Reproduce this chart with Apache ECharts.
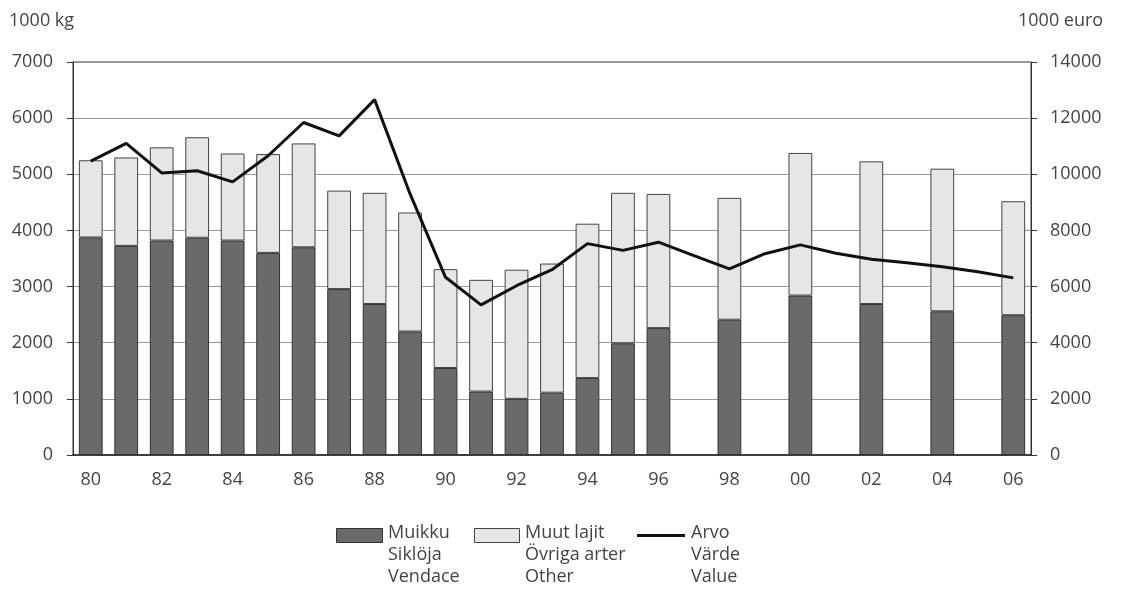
<!DOCTYPE html>
<html>
<head>
<meta charset="utf-8">
<script src="https://cdn.jsdelivr.net/npm/echarts@6/dist/echarts.min.js"></script>
<style>html,body{margin:0;padding:0;background:#fff}#c{width:1123px;height:590px}</style>
</head>
<body>
<div id="c"></div>
<script>
var years = ['80','81','82','83','84','85','86','87','88','89','90','91','92','93','94','95','96','97','98','99','00','01','02','03','04','05','06'];
var muikku = [3875,3725,3820,3870,3820,3600,3700,2955,2690,2200,1550,1130,1000,1110,1370,1990,2260,null,2410,null,2840,null,2690,null,2560,null,2490];
var muut = [1375,1575,1660,1790,1550,1760,1850,1755,1980,2120,1760,1990,2300,2300,2750,2680,2390,null,2170,null,2540,null,2540,null,2540,null,2030];
var arvo = [10470,11100,10050,10125,9730,10660,11845,11370,12660,9300,6330,5350,6030,6600,7530,7290,7580,7100,6630,7170,7485,7190,6970,6850,6710,6530,6310];
var leftTicks = {min:0, max:7000, interval:1000};
var rightTicks = {min:0, max:14000, interval:2000};
var names = ['Muikku\nSiklöja\nVendace', 'Muut lajit\nÖvriga arter\nOther', 'Arvo\nVärde\nValue'];

var font = 'Open Sans';
var txt = '#444';
var fs = 18;
function plain(v){ return String(v); }
var chart = echarts.init(document.getElementById('c'), null, {renderer:'canvas'});
var legendText = {fontFamily: font, fontSize: fs, fill: txt, lineHeight: 22};
chart.setOption({
  animation: false,
  textStyle: {fontFamily: font},
  grid: {left: 73, right: 92, top: 62, bottom: 135, show: true, borderColor: '#333', borderWidth: 1, containLabel: false},
  legend: {show: false, data: names},
  graphic: [
    {type: 'rect', left: 336, top: 528, shape: {width: 46, height: 14}, style: {fill: '#6a6a6a', stroke: '#333', lineWidth: 1}},
    {type: 'text', left: 388, top: 522, style: Object.assign({text: names[0]}, legendText)},
    {type: 'rect', left: 474, top: 528, shape: {width: 45, height: 14}, style: {fill: '#e6e6e6', stroke: '#444', lineWidth: 1}},
    {type: 'text', left: 525, top: 522, style: Object.assign({text: names[1]}, legendText)},
    {type: 'rect', left: 637, top: 534, shape: {width: 48, height: 3}, style: {fill: '#111'}},
    {type: 'text', left: 691, top: 522, style: Object.assign({text: names[2]}, legendText)}
  ],
  xAxis: {
    type: 'category', data: years,
    axisLine: {lineStyle: {color: '#222', width: 1.5}},
    axisTick: {show: false},
    axisLabel: {interval: 1, fontSize: fs, color: txt, margin: 16, fontFamily: font}
  },
  yAxis: [{
    type: 'value', min: leftTicks.min, max: leftTicks.max, interval: leftTicks.interval,
    name: '1000 kg', nameLocation: 'end', nameGap: 32,
    nameTextStyle: {fontSize: fs, color: txt, align: 'left', padding: [0,0,0,-64], fontFamily: font},
    axisLine: {show: true, lineStyle: {color: '#333'}},
    axisTick: {show: true, length: 6, lineStyle: {color: '#333'}},
    axisLabel: {fontSize: fs, color: txt, margin: 20, fontFamily: font, formatter: plain},
    splitLine: {lineStyle: {color: '#999', width: 1}}
  }, {
    type: 'value', min: rightTicks.min, max: rightTicks.max, interval: rightTicks.interval,
    name: '1000 euro', nameLocation: 'end', nameGap: 32,
    nameTextStyle: {fontSize: fs, color: txt, align: 'left', padding: [0,0,0,-13], fontFamily: font},
    axisLine: {show: true, lineStyle: {color: '#333'}},
    axisTick: {show: true, length: 6, lineStyle: {color: '#333'}},
    axisLabel: {fontSize: fs, color: txt, margin: 19, fontFamily: font, formatter: plain},
    splitLine: {show: false}
  }],
  series: [{
    name: names[0], type: 'bar', stack: 'kg', data: muikku, barWidth: '67%',
    itemStyle: {color: '#6a6a6a', borderColor: '#333', borderWidth: 1}
  }, {
    name: names[1], type: 'bar', stack: 'kg', data: muut, barWidth: '67%',
    itemStyle: {color: '#e6e6e6', borderColor: '#444', borderWidth: 1}
  }, {
    name: names[2], type: 'line', yAxisIndex: 1, data: arvo,
    symbol: 'none', showSymbol: false,
    lineStyle: {color: '#111', width: 3}, itemStyle: {color: '#111'}, z: 5
  }]
});
</script>
</body>
</html>
